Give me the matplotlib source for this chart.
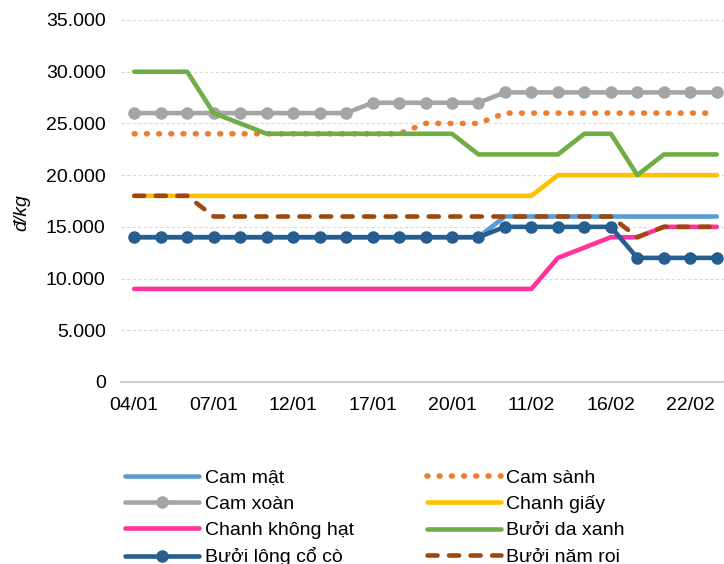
import matplotlib
matplotlib.use("Agg")
import matplotlib.pyplot as plt

plt.rcParams["font.family"] = ["Liberation Sans", "DejaVu Sans"]

# Category labels (ticks shown every third point)
dates = ["04/01", "05/01", "06/01", "07/01", "08/01", "11/01", "12/01", "13/01",
         "14/01", "17/01", "18/01", "19/01", "20/01", "21/01", "10/02", "11/02",
         "12/02", "15/02", "16/02", "17/02", "18/02", "22/02", "23/02"]
tick_idx = [0, 3, 6, 9, 12, 15, 18, 21]

cam_mat = [14000] * 14 + [16000] * 9
cam_sanh = [24000] * 11 + [25000] * 3 + [26000] * 9
cam_xoan = [26000] * 9 + [27000] * 5 + [28000] * 9
chanh_giay = [18000] * 16 + [20000] * 7
chanh_khong_hat = [9000] * 16 + [12000, 13000, 14000, 14000, 15000, 15000, 15000]
buoi_da_xanh = [30000, 30000, 30000, 26000, 25000, 24000, 24000, 24000, 24000,
                24000, 24000, 24000, 24000, 22000, 22000, 22000, 22000, 24000,
                24000, 20000, 22000, 22000, 22000]
buoi_long_co_co = [14000] * 14 + [15000] * 5 + [12000] * 4
buoi_nam_roi = [18000] * 3 + [16000] * 16 + [14000] + [15000] * 3

fs = 14
fig = plt.figure(figsize=(7.24, 5.64), dpi=100)
ax = fig.add_axes([121 / 724, 182 / 564, 609 / 724, 362 / 564])

x = list(range(len(dates)))
lw = 3.3
common = dict(lw=lw, solid_capstyle="round", solid_joinstyle="round")

l1, = ax.plot(x, cam_mat, color="#5B9BD5", label="Cam mật", **common)
l2, = ax.plot(x, cam_sanh, color="#ED7D31", label="Cam sành", lw=4.0,
              linestyle=(0, (0.15, 2.05)), dash_capstyle="round")
l3, = ax.plot(x, cam_xoan, color="#A5A5A5", label="Cam xoàn", marker="o",
              markersize=8, **common)
l4, = ax.plot(x, chanh_giay, color="#FFC000", label="Chanh giấy", **common)
l5, = ax.plot(x, chanh_khong_hat, color="#FF3399", label="Chanh không hạt", **common)
l6, = ax.plot(x, buoi_da_xanh, color="#70AD47", label="Bưởi da xanh", **common)
l7, = ax.plot(x, buoi_long_co_co, color="#255E91", label="Bưởi lông cổ cò", marker="o",
              markersize=8, **common)
l8, = ax.plot(x, buoi_nam_roi, color="#9E480E", label="Bưởi năm roi", lw=lw,
              linestyle=(0, (2.2, 2.5)), dash_capstyle="round")

ax.set_xlim(-0.5, len(dates) - 0.5)
ax.set_ylim(0, 35000)
ax.set_yticks(range(0, 35001, 5000))
ax.set_yticklabels(["0" if v == 0 else f"{v // 1000}.000" for v in range(0, 35001, 5000)])
ax.set_xticks(tick_idx)
ax.set_xticklabels([dates[i] for i in tick_idx])
ax.tick_params(axis="both", length=0, labelsize=fs, colors="#000000")
ax.tick_params(axis="y", pad=11)
ax.tick_params(axis="x", pad=11)

ax.grid(axis="y", color="#D9D9D9", linestyle=(0, (3, 2)), linewidth=0.8)
ax.set_axisbelow(True)
for side in ("top", "right", "left"):
    ax.spines[side].set_visible(False)
ax.spines["bottom"].set_color("#D0D0D0")
ax.spines["bottom"].set_linewidth(1.6)

ax.set_ylabel("đ/kg", fontsize=fs, fontstyle="italic")
ax.yaxis.set_label_coords(-0.163, 0.467)
ax.yaxis.label.set_verticalalignment("center")

handles = [l1, l3, l5, l7, l2, l4, l6, l8]
fig.legend(handles, [h.get_label() for h in handles], ncol=2,
           loc="upper left", bbox_to_anchor=(125 / 724, 1 - 469 / 564),
           frameon=False, fontsize=fs, handlelength=3.8, handletextpad=0.3,
           labelspacing=0.44, columnspacing=3.75, borderpad=0, borderaxespad=0,
           numpoints=1)

fig.savefig("out.png", dpi=100)
